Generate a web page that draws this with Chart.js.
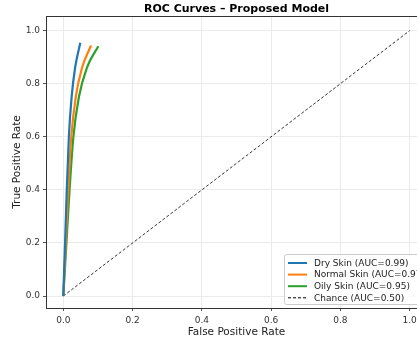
<!DOCTYPE html>
<html>
<head>
<meta charset="utf-8">
<script src="https://cdn.jsdelivr.net/npm/chart.js@4/dist/chart.umd.min.js"></script>
<style>
  html, body { margin: 0; padding: 0; background: #fff; overflow: hidden; }
  canvas { display: block; }
</style>
</head>
<body>
<canvas id="roc_Chart" width="440" height="339"></canvas>
<script>
const labels = ['Dry Skin (AUC=0.99)', 'Normal Skin (AUC=0.97)', 'Oily Skin (AUC=0.95)', 'Chance (AUC=0.50)'];
const dryFpr = [0, 0.005, 0.010, 0.016, 0.024, 0.034, 0.049];
const dryTpr = [0, 0.20, 0.40, 0.60, 0.75, 0.86, 0.954];
const normalFpr = [0, 0.007, 0.014, 0.023, 0.036, 0.054, 0.080];
const normalTpr = [0, 0.20, 0.40, 0.60, 0.75, 0.86, 0.944];
const oilyFpr = [0, 0.009, 0.018, 0.029, 0.045, 0.068, 0.101];
const oilyTpr = [0, 0.20, 0.40, 0.60, 0.75, 0.86, 0.941];
const chanceFpr = [0, 1];
const chanceTpr = [0, 1];
const ticks = [0, 0.2, 0.4, 0.6, 0.8, 1.0];
const colors = ['#1f77b4', '#ff7f0e', '#2ca02c', '#000000'];

function pts(xs, ys) {
    return xs.map((x, i) => ({ x: x, y: ys[i] }));
}

const ctx = document.getElementById('roc_Chart');
const font = 'DejaVu Sans';

const boxPlugin = {
    id: 'box',
    afterDraw(chart) {
        const c = chart.ctx, a = chart.chartArea;
        c.save();
        c.strokeStyle = '#333';
        c.lineWidth = 1;
        c.strokeRect(a.left + 0.5, a.top + 0.5, a.right - a.left, a.bottom - a.top);
        // title
        c.fillStyle = '#000';
        c.font = 'bold 11px "' + font + '"';
        c.textAlign = 'center';
        c.textBaseline = 'middle';
        c.fillText('ROC Curves \u2013 Proposed Model', (a.left + a.right) / 2, 9);
        // legend
        const lx = 284, ly = 254, lw = 150, lh = 50;
        c.fillStyle = 'rgba(255,255,255,0.85)';
        c.strokeStyle = '#ccc';
        c.beginPath();
        c.roundRect(lx + 0.5, ly + 0.5, lw, lh, 2);
        c.fill();
        c.stroke();
        c.font = '9px "' + font + '"';
        c.textAlign = 'left';
        chart.data.datasets.forEach((ds, i) => {
            const y = ly + 9 + i * 11.6;
            c.strokeStyle = ds.borderColor;
            c.lineWidth = ds.borderDash ? 1 : 2;
            c.setLineDash(ds.borderDash || []);
            c.beginPath();
            c.moveTo(lx + 4, y);
            c.lineTo(lx + 23, y);
            c.stroke();
            c.setLineDash([]);
            c.fillStyle = '#222';
            c.fillText(ds.label, lx + 30, y + 0.5);
        });
        c.restore();
    }
};

new Chart(ctx, {
    type: 'scatter',
    data: {
        datasets: [
            { label: labels[0], data: pts(dryFpr, dryTpr), borderColor: colors[0], borderWidth: 2.2, showLine: true, pointRadius: 0, cubicInterpolationMode: 'monotone' },
            { label: labels[1], data: pts(normalFpr, normalTpr), borderColor: colors[1], borderWidth: 2.2, showLine: true, pointRadius: 0, cubicInterpolationMode: 'monotone' },
            { label: labels[2], data: pts(oilyFpr, oilyTpr), borderColor: colors[2], borderWidth: 2.2, showLine: true, pointRadius: 0, cubicInterpolationMode: 'monotone' },
            { label: labels[3], data: pts(chanceFpr, chanceTpr), borderColor: colors[3], borderWidth: 0.8, borderDash: [3, 2], showLine: true, pointRadius: 0 }
        ]
    },
    options: {
        responsive: false,
        animation: false,
        layout: { padding: { top: 16, right: 13, left: 0, bottom: 0 } },
        plugins: {
            legend: { display: false },
            tooltip: { enabled: false }
        },
        scales: {
            x: {
                type: 'linear', min: -0.05, max: 1.05,
                afterBuildTicks: s => { s.ticks = ticks.map(v => ({ value: v })); },
                afterFit: s => { s.height = 31; },
                ticks: { callback: v => v.toFixed(1), color: '#333', font: { family: font, size: 9 }, padding: 4, maxRotation: 0 },
                grid: { color: '#ebebeb', tickColor: '#555', tickLength: 3 },
                border: { color: '#333' },
                title: { display: true, text: 'False Positive Rate', color: '#222', font: { family: font, size: 10.5 }, padding: { top: 0, bottom: 0 } }
            },
            y: {
                type: 'linear', min: -0.045, max: 1.055,
                afterBuildTicks: s => { s.ticks = ticks.map(v => ({ value: v })); },
                afterFit: s => { s.width = 46; },
                ticks: { callback: v => v.toFixed(1), color: '#333', font: { family: font, size: 9 }, padding: 3 },
                grid: { color: '#ebebeb', tickColor: '#555', tickLength: 3 },
                border: { color: '#333' },
                title: { display: true, text: 'True Positive Rate', color: '#222', font: { family: font, size: 10.5 }, padding: { top: 11, bottom: 0 } }
            }
        }
    },
    plugins: [boxPlugin]
});
</script>
</body>
</html>
